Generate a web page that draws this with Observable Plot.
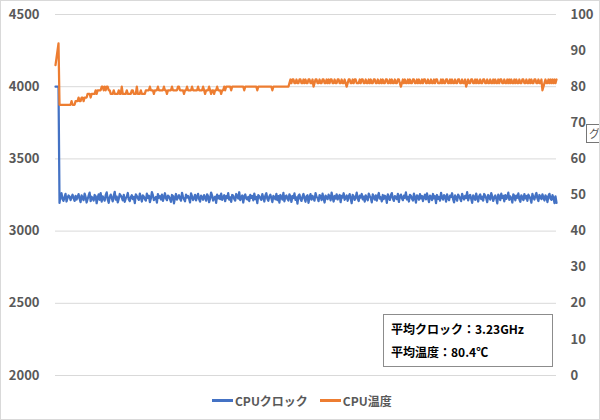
<!DOCTYPE html>
<html>
<head>
<meta charset="utf-8">
<script src="https://cdn.jsdelivr.net/npm/d3@7"></script>
<script src="https://cdn.jsdelivr.net/npm/@observablehq/plot@0.6"></script>
<style>
  body { margin: 0; background: #fff; font-family: "Noto Sans CJK JP", "Noto Sans", sans-serif; }
  #wrap { position: relative; width: 600px; height: 420px; overflow: hidden; background: #fff; }
  #frame { position: absolute; left: 0; top: 0; width: 598px; height: 418px; border: 1px solid #d9d9d9; pointer-events: none; }
  #chart { position: absolute; left: 0; top: 0; }
  #legend { position: absolute; left: 212px; top: 392px; display: flex; align-items: center; font-size: 12px; font-weight: bold; color: #595959; white-space: nowrap; }
  .item { display: flex; align-items: center; margin-right: 12px; }
  .swatch { width: 21px; height: 3px; margin-right: 2px; }
  #note { position: absolute; left: 383px; top: 314px; width: 168px; height: 51px; border: 1px solid #8c8c8c; background: #fff; font-size: 12px; font-weight: bold; color: #000; box-sizing: content-box; }
  #note div { position: absolute; left: 7px; white-space: nowrap; }
  #tip { position: absolute; left: 586px; top: 124px; width: 30px; height: 17px; border: 1px solid #767676; background: #fff; font-size: 11px; color: #555; line-height: 17px; padding-left: 2px; }
</style>
</head>
<body>
<div id="wrap">
  <div id="chart"></div>
  <div id="note"></div>
  <div id="legend"></div>
  <div id="tip">グ</div>
  <div id="frame"></div>
</div>
<script>
// CPU clock (MHz), one value per sample
const clockMHz = [
  4000, 4000, 4000, 4000,
  3195,3248,3262,3221,3210,3236,3258,3205,3229,3247,3240,3215,3233,3252,3228,3209,3244,3219,3237,3256,
  3224,3201,3247,3230,3214,3259,3236,3198,3222,3245,3266,3207,3238,3226,3212,3250,3242,3193,3231,3255,
  3217,3263,3204,3241,3225,3211,3249,3268,3220,3196,3235,3253,3229,3206,3244,3272,3218,3239,3199,3223,
  3257,3246,3232,3213,3251,3203,3227,3240,3264,3219,3208,3234,3248,3222,3237,3194,3254,3243,3228,3216,
  3260,3233,3205,3247,3238,3221,3212,3259,3230,3245,3201,3226,3270,3249,3215,3224,3236,3197,3256,3231,
  3242,3219,3252,3209,3234,3262,3227,3214,3246,3239,3223,3202,3250,3243,3192,3229,3257,3218,3235,3248,
  3225,3211,3265,3237,3220,3206,3253,3232,3244,3226,3199,3261,3240,3215,3228,3251,3213,3238,3258,3222,
  3204,3245,3235,3217,3249,3233,3210,3255,3241,3200,3224,3267,3246,3212,3230,3239,3195,3252,3227,3244,
  3221,3259,3216,3236,3248,3207,3242,3229,3263,3218,3234,3203,3250,3245,3223,3211,3257,3238,3226,3269,
  3214,3232,3247,3198,3240,3254,3225,3219,3237,3208,3251,3230,3243,3213,3260,3222,3236,3194,3249,3241,
  3227,3216,3256,3231,3205,3246,3262,3224,3210,3239,3252,3228,3201,3244,3235,3220,3258,3214,3242,3197,
  3250,3233,3219,3264,3206,3240,3247,3223,3212,3255,3237,3202,3243,3229,3261,3216,3234,3190,3245,3253,
  3222,3209,3238,3257,3226,3203,3241,3248,3196,3232,3256,3218,3244,3225,3211,3263,3236,3230,3207,3249,
  3242,3215,3259,3228,3198,3246,3234,3221,3252,3240,3213,3267,3231,3205,3243,3226,3255,3219,3237,3250,
  3200,3244,3233,3262,3217,3229,3247,3210,3238,3256,3224,3193,3251,3241,3216,3235,3266,3223,3208,3245,
  3232,3257,3220,3239,3204,3248,3227,3213,3260,3243,3229,3199,3254,3236,3218,3247,3211,3241,3264,3225,
  3234,3206,3250,3222,3245,3238,3196,3255,3230,3216,3249,3263,3226,3209,3242,3235,3221,3258,3202,3240,
  3253,3228,3214,3246,3231,3268,3219,3237,3205,3251,3244,3224,3212,3259,3233,3197,3248,3239,3217,3256,
  3226,3243,3208,3235,3252,3220,3261,3230,3201,3246,3238,3215,3257,3227,3242,3194,3250,3223,3236,3211,
  3265,3232,3218,3249,3240,3204,3255,3228,3214,3245,3237,3262,3221,3199,3247,3233,3210,3252,3241,3225,
  3207,3258,3236,3219,3244,3229,3270,3213,3239,3251,3224,3196,3248,3235,3216,3260,3230,3205,3243,3254,
  3222,3238,3211,3257,3245,3227,3200,3250,3234,3218,3263,3241,3209,3232,3247,3225,3192,3253,3237,3215,
  3259,3230,3244,3206,3249,3223,3236,3266,3217,3240,3228,3198,3255,3242,3213,3246,3231,3261,3220,3203,
  3248,3235,3214,3256,3227,3243,3210,3252,3239,3224,3197,3258,3233,3219,3245,3264,3226,3208,3250,3238,
  3221,3255,3232,3212,3247,3236,3201,3244,3258,3225,3216,3249,3230,3194,3240,3196
];
// CPU temperature (°C), one value per sample
const tempC = [
  86,88,90,92,
  75,75,75,75,75,75,75,75,75,75,75,75,76,75,75,75,
  76,76,76,77,76,76,77,77,76,77,
  77,77,78,78,78,77,78,78,78,78,
  79,78,79,79,79,
  79,80,80,79,80,79,80,80,79,79,
  78,78,78,79,78,78,78,78,79,78, 78,80,78,78,78,78,79,78,78,78, 78,79,79,78,78,78,80,78,78,78, 79,78,78,78,78,79,
  79,79,79,80,79,79,79,78,79,79, 79,80,79,79,79,79,79,80,79,79, 78,79,79,79,79,80,79,79,79,79,
  79,80,80,79,79,79,79,78,79,79, 80,79,79,79,79,80,79,79,79,79, 79,80,79,79,
  79,79,80,79,78,79,79,79,80,79, 78,79,79,78,79,79,80,79,79,79, 78,79,79,80,79,
  80,80,80,80,80,79,80,80,80,80, 80,80,80,80,80,80,80,80,79,80, 80,80,80,80,80,80,80,80,80,80,
  80,79,80,80,80,80,80,80,80,80, 80,80,80,80,80,80,79,80,80,80, 80,80,80,80,80,80,80,80,80,80, 80,80,80,
  81,82,81,82,82,81,81,82,81,81,82,82,81,81,82,81,82,81,81,82,
  82,81,81,82,80,81,82,82,81,81,82,81,81,82,82,81,81,82,81,82,
  81,82,82,81,81,82,81,81,82,82,81,81,82,81,81,82,81,80,81,82,
  82,81,81,82,81,82,82,81,81,81,82,81,82,82,81,81,82,81,81,82,
  81,82,81,81,82,82,81,81,82,81,81,82,81,82,81,81,82,82,81,81,
  82,81,82,81,81,82,81,81,82,82,81,80,81,82,81,82,81,81,82,81,
  82,81,81,82,82,81,81,82,81,82,81,81,82,81,82,82,81,81,82,81,
  81,82,81,81,82,81,82,82,81,81,81,82,81,82,81,81,82,82,81,81,
  82,81,82,81,81,82,81,81,82,82,81,81,82,81,81,82,80,81,82,81,
  81,82,82,81,81,82,81,82,81,81,82,81,81,82,82,81,81,82,81,81,
  82,81,81,82,81,82,81,81,82,81,82,82,81,81,82,81,81,82,81,82,
  81,82,81,81,82,81,82,81,81,82,81,81,82,82,81,81,82,81,81,82,
  81,82,81,81,82,82,81,81,82,81,81,82,79,80,81,82,81,81,82,81,
  82,81,82,81,82,81,82
];
const clockTicks = [2000, 2500, 3000, 3500, 4000, 4500];
const tempTicks = [0, 10, 20, 30, 40, 50, 60, 70, 80, 90, 100];
const seriesNames = ["CPUクロック", "CPU温度"];
const seriesColors = ["#4472C4", "#ED7D31"];
const noteLines = ["平均クロック：3.23GHz", "平均温度：80.4℃"];

// map temperature axis (0..100) onto clock axis (2000..4500)
const clockMin = 2000, clockMax = 4500, tempMax = 100;
const toClock = t => clockMin + (t / tempMax) * (clockMax - clockMin);
const toTemp = c => Math.round((c - clockMin) / (clockMax - clockMin) * tempMax);

const clockData = clockMHz.map((v, i) => ({i, v}));
const tempData = tempC.map((v, i) => ({i, v: toClock(v)}));
const n = Math.max(clockMHz.length, tempC.length);

const chart = Plot.plot({
  width: 600,
  height: 390,
  marginLeft: 55,
  marginRight: 44,
  marginTop: 14,
  marginBottom: 15,
  style: {fontFamily: '"Noto Sans CJK JP", "Noto Sans", sans-serif', color: "#595959", background: "transparent", overflow: "visible"},
  x: {domain: [0, n - 1], axis: null},
  y: {domain: [clockMin, clockMax], axis: null},
  marks: [
    Plot.gridY(clockTicks, {stroke: "#d9d9d9", strokeOpacity: 1, strokeWidth: 1}),
    Plot.axisY(clockTicks, {anchor: "left", tickSize: 0, tickPadding: 16, fontSize: 13, fontWeight: "bold", label: null, tickFormat: d => String(d)}),
    Plot.axisY(tempTicks.map(toClock), {anchor: "right", tickSize: 0, tickPadding: 14, fontSize: 13, fontWeight: "bold", label: null, tickFormat: d => String(toTemp(d))}),
    Plot.line(clockData, {x: "i", y: "v", stroke: seriesColors[0], strokeWidth: 2.25, strokeLinejoin: "round"}),
    Plot.line(tempData, {x: "i", y: "v", stroke: seriesColors[1], strokeWidth: 2.25, strokeLinejoin: "round"})
  ]
});
document.getElementById("chart").appendChild(chart);

const legend = document.getElementById("legend");
seriesNames.forEach((name, k) => {
  const it = document.createElement("div");
  it.className = "item";
  const sw = document.createElement("div");
  sw.className = "swatch";
  sw.style.background = seriesColors[k];
  const tx = document.createElement("span");
  tx.textContent = name;
  it.appendChild(sw); it.appendChild(tx);
  legend.appendChild(it);
});

const note = document.getElementById("note");
noteLines.forEach((line, k) => {
  const d = document.createElement("div");
  d.textContent = line;
  d.style.top = (5 + k * 23) + "px";
  note.appendChild(d);
});
</script>
</body>
</html>
